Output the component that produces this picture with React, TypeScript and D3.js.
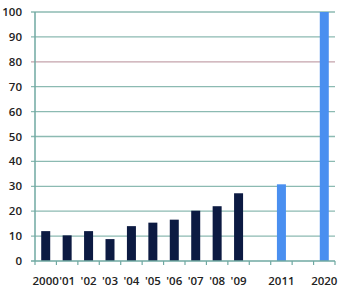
import * as d3 from "d3";
import { useEffect, useRef } from "react";

// categories on the x axis ("" = empty slot)
const categories = ["2000", "'01", "'02", "'03", "'04", "'05", "'06", "'07", "'08", "'09", "", "2011", " ", "2020"];
const values = [12, 10.3, 12, 8.8, 14, 15.4, 16.6, 20.2, 22, 27.2, null, 30.8, null, 100];
const projected = [false, false, false, false, false, false, false, false, false, false, false, true, false, true];
const yTicks = [0, 10, 20, 30, 40, 50, 60, 70, 80, 90, 100];

export default function App() {
  const svgRef = useRef<SVGSVGElement | null>(null);

  useEffect(() => {
    if (!svgRef.current) return;
    document.body.style.margin = "0";
    const svg = d3.select(svgRef.current);
    svg.selectAll("*").remove();

    const width = 340;
    const height = 290;
    const left = 35, right = 335, top = 12, bottom = 261;

    const x = d3.scaleBand().domain(categories).range([left, right]).paddingInner(0).paddingOuter(0);
    const y = d3.scaleLinear().domain([0, 100]).range([bottom, top]);

    svg.attr("width", width).attr("height", height);
    svg.append("rect").attr("width", width).attr("height", height).attr("fill", "#fff");

    // gridlines
    svg.append("g")
      .selectAll("line")
      .data(yTicks.filter((d) => d > 0))
      .enter()
      .append("line")
      .attr("x1", left - 4)
      .attr("x2", right)
      .attr("y1", (d) => y(d))
      .attr("y2", (d) => y(d))
      .attr("stroke", (d) => (d === 80 ? "#c4a3ab" : "#8cbab2"))
      .attr("stroke-width", 1.3);

    // y axis labels
    svg.append("g")
      .selectAll("text")
      .data(yTicks)
      .enter()
      .append("text")
      .attr("x", 22)
      .attr("y", (d) => y(d))
      .attr("dy", "0.35em")
      .attr("text-anchor", "end")
      .attr("font-family", "Open Sans")
      .attr("font-size", 11.5)
      .attr("font-weight", 600)
      .attr("fill", "#222")
      .text((d) => d);

    // bars
    const rows = categories.map((c, i) => ({ c, v: values[i], p: projected[i] })).filter((d) => d.v !== null);
    const bw = 9;
    svg.append("g")
      .selectAll("rect")
      .data(rows)
      .enter()
      .append("rect")
      .attr("x", (d) => x(d.c)! + x.bandwidth() / 2 - bw / 2)
      .attr("y", (d) => y(d.v as number))
      .attr("width", bw)
      .attr("height", (d) => y(0) - y(d.v as number))
      .attr("fill", (d) => (d.p ? "#4a8ff0" : "#0c1a42"));

    // axes lines
    svg.append("line")
      .attr("x1", left).attr("x2", left)
      .attr("y1", top).attr("y2", bottom)
      .attr("stroke", "#6fa9a2").attr("stroke-width", 1.5);
    svg.append("line")
      .attr("x1", left - 4).attr("x2", right)
      .attr("y1", bottom).attr("y2", bottom)
      .attr("stroke", "#6fa9a2").attr("stroke-width", 1.5);

    // x ticks at band boundaries
    const bounds = categories.map((c) => x(c)!).concat([right]);
    svg.append("g")
      .selectAll("line")
      .data(bounds)
      .enter()
      .append("line")
      .attr("x1", (d) => d).attr("x2", (d) => d)
      .attr("y1", bottom).attr("y2", bottom + 4)
      .attr("stroke", "#6fa9a2").attr("stroke-width", 1.2);

    // x labels
    svg.append("g")
      .selectAll("text")
      .data(categories)
      .enter()
      .append("text")
      .attr("x", (d) => x(d)! + x.bandwidth() / 2)
      .attr("y", 285)
      .attr("text-anchor", "middle")
      .attr("font-family", "Open Sans")
      .attr("font-size", 11.5)
      .attr("font-weight", 600)
      .attr("fill", "#222")
      .text((d) => d.trim());
  }, []);

  return <svg ref={svgRef} style={{ display: "block" }}></svg>;
}
